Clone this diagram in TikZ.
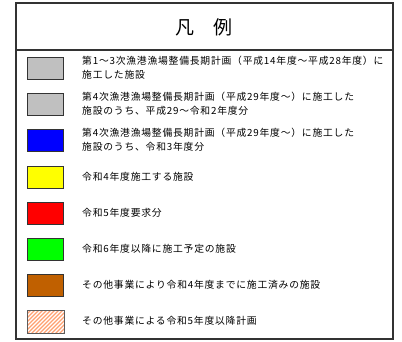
\documentclass[tikz,border=0pt]{standalone}
\usepackage{fontspec}
\newfontfamily\jp[LetterSpace=8]{Noto Sans CJK JP}
\newfontfamily\jptitle{Noto Sans CJK JP}
\definecolor{frame}{HTML}{333333}
\definecolor{sgrey}{HTML}{C0C0C0}
\definecolor{sblue}{HTML}{0000FF}
\definecolor{syellow}{HTML}{FFFF00}
\definecolor{sred}{HTML}{FF0000}
\definecolor{sgreen}{HTML}{00FF00}
\definecolor{sbrown}{HTML}{C06000}
\definecolor{shatch}{HTML}{FFA070}
\begin{document}
\begin{tikzpicture}[x=1pt,y=-1pt,
  swatch/.style={draw=frame, line width=1.1pt, minimum width=36pt, minimum height=22pt, inner sep=0pt, anchor=north west},
  label/.style={anchor=west, inner sep=0pt, align=left, font=\jp\fontsize{9.8pt}{14pt}\selectfont},
  hatch/.style={draw=shatch, line width=1.1pt}]
\useasboundingbox (0,0) rectangle (402,341);
\fill[white] (0,0) rectangle (402,341);
% frame
\draw[frame, line width=1.2pt] (16,3) rectangle (393,339);
\draw[frame, line width=1.2pt] (16,50) -- (393,50);
\node[font=\jptitle\fontsize{19pt}{22pt}\selectfont, inner sep=0pt] (title) at (204,27) {凡　例};
% swatches
\node[swatch, fill=sgrey]  (s1) at (27,57)  {};
\node[swatch, fill=sgrey]  (s2) at (27,93)  {};
\node[swatch, fill=sblue]  (s3) at (27,129) {};
\node[swatch, fill=syellow](s4) at (27,166) {};
\node[swatch, fill=sred]   (s5) at (27,202) {};
\node[swatch, fill=sgreen] (s6) at (27,238) {};
\node[swatch, fill=sbrown] (s7) at (27,274) {};
\node[swatch, fill=white, draw=none] (s8) at (27,310) {};
\begin{scope}
  \clip (s8.south west) rectangle (s8.north east);
  \foreach \i in {-24,-20,...,40} \draw[hatch] (27+\i,334) -- (27+\i+24,310);
\end{scope}
\draw[frame!80, line width=0.8pt] (s8.south west) rectangle (s8.north east);
% labels
\node[label] (t1) at (82,68)  {第1～3次漁港漁場整備長期計画（平成14年度～平成28年度）に\\施工した施設};
\node[label] (t2) at (82,104) {第4次漁港漁場整備長期計画（平成29年度～）に施工した\\施設のうち、平成29～令和2年度分};
\node[label] (t3) at (82,140) {第4次漁港漁場整備長期計画（平成29年度～）に施工した\\施設のうち、令和3年度分};
\node[label] (t4) at (82,177) {令和4年度施工する施設};
\node[label] (t5) at (82,213) {令和5年度要求分};
\node[label] (t6) at (82,249) {令和6年度以降に施工予定の施設};
\node[label] (t7) at (82,285) {その他事業により令和4年度までに施工済みの施設};
\node[label] (t8) at (82,321) {その他事業による令和5年度以降計画};
\end{tikzpicture}
\end{document}
